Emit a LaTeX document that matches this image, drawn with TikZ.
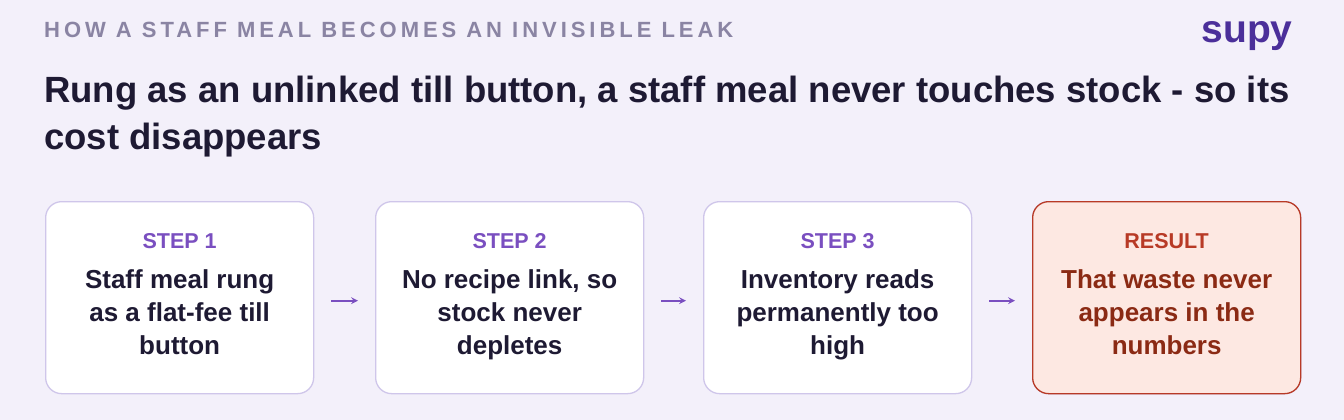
\documentclass[tikz,border=0pt]{standalone}
\usepackage{fontspec}
\setmainfont{Liberation Sans}
\newfontfamily\spacedfont[LetterSpace=18]{Liberation Sans}
\usetikzlibrary{positioning}
\definecolor{bgcol}{HTML}{F3F0FA}
\definecolor{boxline}{HTML}{CFC6EA}
\definecolor{stepcol}{HTML}{7A4FC0}
\definecolor{inkcol}{HTML}{1E1A33}
\definecolor{graycol}{HTML}{8A84A3}
\definecolor{logocol}{HTML}{4B2F9A}
\definecolor{resfill}{HTML}{FDE8E2}
\definecolor{resline}{HTML}{B83A26}
\definecolor{restext}{HTML}{8B2A14}
\tikzset{%
  every step/.style={
    draw=boxline,
    line width=1.3pt,
    fill=white,
    rounded corners=16pt,
    minimum width=268pt,
    minimum height=192pt,
    anchor=north west
  },
  step result/.style={
    draw=resline,
    fill=resfill
  },
  step label/.style={
    font=\bfseries\fontsize{21.5}{24}\selectfont,
    text=stepcol
  },
  step body/.style={
    font=\bfseries\fontsize{26}{33}\selectfont,
    text=inkcol,
    align=center
  },
  flow/.style={
    ->,
    >=stealth,
    draw=stepcol,
    line width=2pt,
    shorten >=17pt,
    shorten <=17pt
  },
}
\begin{document}
\begin{tikzpicture}[x=1pt, y=-1pt]
    \fill [bgcol] (0,0) rectangle (1344,420);
    \useasboundingbox (0,0) rectangle (1344,420);
    \node [anchor=west, inner sep=0pt, text=graycol, font=\spacedfont\bfseries\fontsize{22}{24}\selectfont] (kicker) at (44,30) {HOW A STAFF MEAL BECOMES AN INVISIBLE LEAK};
    \node [anchor=center, text=logocol, font=\bfseries\fontsize{39}{39}\selectfont] (logo) at (1247,36) {supy};
    \node [anchor=north west, inner sep=0pt, text=inkcol, align=left, font=\bfseries\fontsize{36.5}{47}\selectfont] (title) at (44,76) {Rung as an unlinked till button, a staff meal never touches stock - so its\\cost disappears};
    \foreach \n/\x in {s1/45,s2/375,s3/703,s4/1032}
      \node [every step] (\n) at (\x,201) {};
    \node [every step, step result] at (s4.north west) {};
    \foreach \n/\l in {s1/STEP 1,s2/STEP 2,s3/STEP 3}
      \node [step label] (\n-label) at ([yshift=-40pt]\n.north) {\l};
    \node [step label, text=resline] (s4-label) at ([yshift=-40pt]s4.north) {RESULT};
    \node [step body, anchor=north] (s1-body) at ([yshift=-65pt]s1.north) {Staff meal rung\\as a flat-fee till\\button};
    \node [step body, anchor=north] (s2-body) at ([yshift=-65pt]s2.north) {No recipe link, so\\stock never\\depletes};
    \node [step body, anchor=north] (s3-body) at ([yshift=-65pt]s3.north) {Inventory reads\\permanently too\\high};
    \node [step body, anchor=north, text=restext] (s4-body) at ([yshift=-65pt]s4.north) {That waste never\\appears in the\\numbers};
    \foreach \a/\b in {s1/s2,s2/s3,s3/s4}
      \draw [flow] ([yshift=-3pt]\a.east) -- ([yshift=-3pt]\b.west);
\end{tikzpicture}
\end{document}
